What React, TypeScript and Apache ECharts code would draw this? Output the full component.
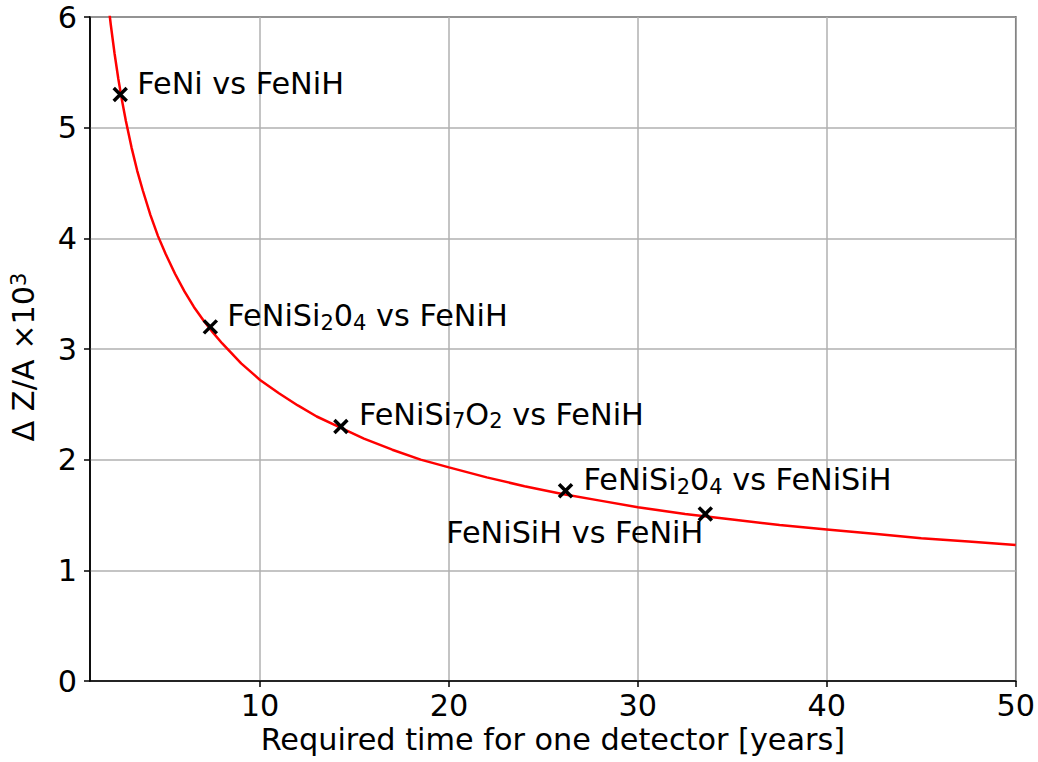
import React, { useEffect, useRef } from "react";
import * as echarts from "echarts";

// Red fit curve: [required time (years), ΔZ/A ×10³]
const curveYears = [1.95, 2.1, 2.3, 2.5, 2.7, 2.9, 3.2, 3.5, 3.8, 4.2, 4.6, 5.0, 5.5, 6.0, 6.5, 7.0, 7.5, 8, 9, 10, 11, 12, 13, 14, 15.5, 17, 18.5, 20, 22, 24, 26, 28, 30, 32.5, 35, 37.5, 40, 42.5, 45, 47.5, 50];
const curveDelta = [6.15, 5.93, 5.67, 5.44, 5.24, 5.06, 4.82, 4.61, 4.43, 4.21, 4.02, 3.86, 3.68, 3.52, 3.38, 3.26, 3.15, 3.05, 2.87, 2.72, 2.6, 2.49, 2.39, 2.31, 2.19, 2.09, 2.0, 1.93, 1.84, 1.76, 1.69, 1.63, 1.57, 1.51, 1.46, 1.41, 1.37, 1.33, 1.29, 1.26, 1.23];

// Marked comparisons
const pointYears = [2.6, 7.37, 14.28, 26.17, 33.57];
const pointDelta = [5.3, 3.2, 2.3, 1.72, 1.51];
const pointLabels = [
  "FeNi vs FeNiH",
  "FeNiSi{sub|2}0{sub|4} vs FeNiH",
  "FeNiSi{sub|7}O{sub|2} vs FeNiH",
  "FeNiSi{sub|2}0{sub|4} vs FeNiSiH",
  "FeNiSiH vs FeNiH",
];

// Axis ticks
const xTicks = [10, 20, 30, 40, 50];
const xMin = 1;
const xMax = 50;
const yMin = 0;
const yMax = 6;

const xName = "Required time for one detector [years]";
const yName = "Δ Z/A ×10{sup|3}";

// label placement (style only)
const labelPlacement = [
  { position: "right", distance: 9, offset: [-1, -11] },
  { position: "right", distance: 9, offset: [-1, -11] },
  { position: "right", distance: 9, offset: [0, -12] },
  { position: "right", distance: 9, offset: [0, -11] },
  { position: "left", distance: -6, offset: [1, 19] },
];

const FONT = "DejaVu Sans";
const FS = 30.3;

export default function App() {
  const ref = useRef<HTMLDivElement>(null);
  useEffect(() => {
    if (!ref.current) return;
    const chart = echarts.init(ref.current, undefined, { renderer: "svg" });
    const curve = curveYears.map((x, i) => [x, curveDelta[i]]);
    const points = pointYears.map((x, i) => ({
      value: [x, pointDelta[i]],
      label: {
        show: true,
        formatter: pointLabels[i],
        position: labelPlacement[i].position,
        distance: labelPlacement[i].distance,
        offset: labelPlacement[i].offset,
      },
    }));
    chart.setOption({
      animation: false,
      backgroundColor: "#fff",
      textStyle: { fontFamily: FONT },
      grid: {
        left: 89,
        right: 22,
        top: 17,
        bottom: 81,
        show: true,
        borderColor: "#000",
        borderWidth: 1.5,
        backgroundColor: "transparent",
      },
      xAxis: {
        type: "value",
        min: xMin,
        max: xMax,
        name: xName,
        nameLocation: "middle",
        nameGap: 43,
        nameTextStyle: { fontSize: FS, color: "#000", fontFamily: FONT },
        axisLine: { show: true, onZero: false, lineStyle: { color: "#000", width: 1.5 } },
        axisTick: { show: true, inside: false, length: 6, customValues: xTicks, lineStyle: { color: "#000", width: 1.5 } },
        axisLabel: { customValues: xTicks, fontSize: FS, color: "#000", margin: 9, fontFamily: FONT },
        splitLine: { show: true, lineStyle: { color: "#b0b0b0", width: 1.5 } },
      },
      yAxis: {
        type: "value",
        min: yMin,
        max: yMax,
        interval: 1,
        name: yName,
        nameLocation: "middle",
        nameRotate: 90,
        nameGap: 52,
        nameTextStyle: {
          fontSize: FS,
          color: "#000",
          fontFamily: FONT,
          padding: [0, 16, 0, 0],
          rich: { sup: { fontSize: 21, lineHeight: 16, verticalAlign: "top", color: "#000", fontFamily: FONT } },
        },
        axisLine: { show: true, onZero: false, lineStyle: { color: "#000", width: 1.5 } },
        axisTick: { show: true, inside: false, length: 6, lineStyle: { color: "#000", width: 1.5 } },
        axisLabel: { fontSize: FS, color: "#000", margin: 13, fontFamily: FONT },
        splitLine: { show: true, lineStyle: { color: "#b0b0b0", width: 1.5 } },
      },
      series: [
        {
          type: "line",
          data: curve,
          showSymbol: false,
          smooth: false,
          clip: true,
          lineStyle: { color: "#ff0000", width: 2.5 },
          z: 3,
        },
        {
          type: "scatter",
          data: points,
          symbol: "path://M0,0L10,10M10,0L0,10",
          symbolSize: 13,
          itemStyle: { color: "none", borderColor: "#000", borderWidth: 3.5, opacity: 1 },
          label: {
            fontSize: FS,
            color: "#000",
            fontFamily: FONT,
            lineHeight: 35,
            rich: { sub: { fontSize: 21, lineHeight: 16, verticalAlign: "bottom", color: "#000", fontFamily: FONT } },
          },
          z: 4,
        },
      ],
    });
    return () => chart.dispose();
  }, []);
  return <div ref={ref} style={{ position: "fixed", left: 0, top: 0, width: 1038, height: 762 }} />;
}
